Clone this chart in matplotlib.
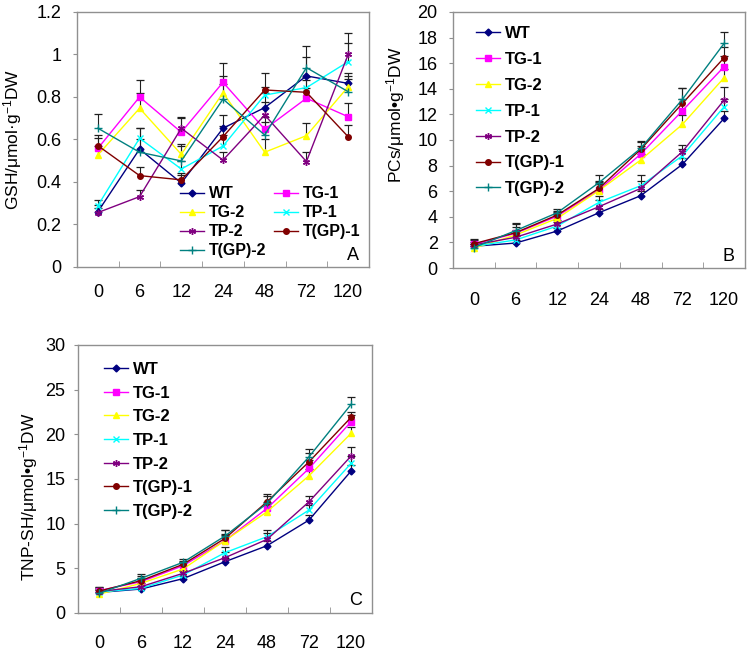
import numpy as np
import matplotlib
matplotlib.use('Agg')
import matplotlib.pyplot as plt
from matplotlib.ticker import FixedLocator, FuncFormatter

# 字体设置
plt.rcParams['font.family'] = ['Liberation Sans', 'DejaVu Sans']
plt.rcParams['mathtext.fontset'] = 'custom'
plt.rcParams['mathtext.rm'] = 'Liberation Sans'
plt.rcParams['mathtext.it'] = 'Liberation Sans'

# 数据
hours = ['0', '6', '12', '24', '48', '72', '120']
labels = ['WT', 'TG-1', 'TG-2', 'TP-1', 'TP-2', 'T(GP)-1', 'T(GP)-2']

# A: GSH
gsh_wt = [0.26, 0.555, 0.395, 0.653, 0.75, 0.899, 0.864]
gsh_tg1 = [0.558, 0.80, 0.634, 0.869, 0.648, 0.794, 0.707]
gsh_tg2 = [0.527, 0.747, 0.530, 0.82, 0.54, 0.618, 0.848]
gsh_tp1 = [0.289, 0.606, 0.461, 0.569, 0.809, 0.844, 0.966]
gsh_tp2 = [0.256, 0.331, 0.653, 0.503, 0.715, 0.496, 1.0]
gsh_gp1 = [0.571, 0.43, 0.41, 0.613, 0.833, 0.822, 0.613]
gsh_gp2 = [0.653, 0.54, 0.499, 0.79, 0.621, 0.938, 0.825]
gsh_err_wt = [0.03, 0.10, 0.04, 0.06, 0.07, 0.09, 0.05]
gsh_err_tg1 = [0.05, 0.08, 0.07, 0.09, 0.06, 0.05, 0.065]
gsh_err_tg2 = [0.04, 0.07, 0.05, 0.08, 0.06, 0.06, 0.05]
gsh_err_tp1 = [0.025, 0.05, 0.04, 0.05, 0.04, 0.05, 0.09]
gsh_err_tp2 = [0.02, 0.03, 0.05, 0.04, 0.06, 0.045, 0.10]
gsh_err_gp1 = [0.05, 0.04, 0.03, 0.05, 0.08, 0.06, 0.055]
gsh_err_gp2 = [0.065, 0.06, 0.07, 0.07, 0.06, 0.10, 0.06]

# B: PCs
pcs_wt = [1.7, 1.95, 2.89, 4.32, 5.65, 8.1, 11.69]
pcs_tg1 = [1.85, 2.71, 4.06, 6.1, 8.9, 12.29, 15.73]
pcs_tg2 = [1.55, 2.58, 3.88, 6.05, 8.44, 11.22, 14.87]
pcs_tp1 = [1.7, 2.19, 3.28, 5.13, 6.43, 8.77, 12.6]
pcs_tp2 = [1.8, 2.4, 3.44, 4.79, 6.22, 9.09, 13.12]
pcs_gp1 = [1.9, 2.76, 4.14, 6.22, 9.27, 12.86, 16.43]
pcs_gp2 = [1.6, 2.92, 4.32, 6.67, 9.35, 13.18, 17.55]
pcs_err_wt = [0.2, 0.2, 0.2, 0.3, 0.4, 0.5, 0.6]
pcs_err_tg1 = [0.3, 0.5, 0.3, 0.6, 0.6, 0.9, 0.8]
pcs_err_tg2 = [0.2, 0.4, 0.3, 0.5, 0.5, 0.7, 0.7]
pcs_err_tp1 = [0.2, 0.3, 0.3, 0.5, 0.8, 0.5, 0.6]
pcs_err_tp2 = [0.2, 0.3, 0.3, 0.5, 0.6, 0.5, 1.0]
pcs_err_gp1 = [0.4, 0.7, 0.3, 0.6, 0.6, 1.2, 0.8]
pcs_err_gp2 = [0.3, 0.6, 0.3, 0.6, 0.6, 0.9, 0.9]

# C: TNP-SH
tnp_wt = [2.3, 2.68, 3.84, 5.74, 7.53, 10.4, 15.88]
tnp_tg1 = [2.5, 3.5, 5.29, 8.09, 11.71, 16.18, 21.4]
tnp_tg2 = [2.1, 3.32, 4.92, 8.1, 11.33, 15.36, 20.1]
tnp_tp1 = [2.35, 2.75, 4.25, 6.75, 8.54, 11.52, 16.74]
tnp_tp2 = [2.4, 2.94, 4.44, 6.19, 8.24, 12.45, 17.56]
tnp_gp1 = [2.45, 3.62, 5.44, 8.35, 12.45, 16.92, 21.89]
tnp_gp2 = [2.2, 3.88, 5.67, 8.61, 12.27, 17.48, 23.34]
tnp_err_wt = [0.3, 0.3, 0.3, 0.4, 0.5, 0.6, 0.7]
tnp_err_tg1 = [0.4, 0.4, 0.4, 0.7, 0.7, 0.9, 0.8]
tnp_err_tg2 = [0.3, 0.4, 0.4, 0.6, 0.6, 0.8, 0.75]
tnp_err_tp1 = [0.4, 0.3, 0.4, 0.6, 0.8, 0.6, 0.8]
tnp_err_tp2 = [0.3, 0.4, 0.4, 0.6, 0.7, 0.6, 1.0]
tnp_err_gp1 = [0.5, 0.5, 0.4, 0.9, 0.9, 1.0, 0.65]
tnp_err_gp2 = [0.4, 0.5, 0.4, 0.7, 0.8, 0.9, 0.85]

# 样式
colors = ['#000080', '#FF00FF', '#FFFF00', '#00FFFF', '#800080', '#800000', '#008080']
markers = ['D', 's', '^', 'x', (6, 2, 0), 'o', '+']
msizes = [3.5, 4.5, 4.5, 4.5, 5, 4, 6]


def draw_panel(ax, data, errs, ylim, ystep, ylabel, letter, label_pos, xpad, ypad):
    x = np.arange(len(hours))
    handles = []
    for i in range(len(data)):
        y = np.array(data[i])
        e = np.array(errs[i])
        # 只画上方误差线
        ax.vlines(x, y, y + e, color='#202020', lw=0.8, zorder=2)
        ax.plot(x, y + e, ls='none', marker='_', ms=6, mew=0.9, color='#202020', zorder=2)
        h, = ax.plot(x, y, '-', color=colors[i], lw=1.0, marker=markers[i],
                     ms=msizes[i], mfc=colors[i], mec=colors[i], mew=1.0,
                     label=labels[i], zorder=3)
        handles.append(h)

    ax.set_xlim(-0.5, len(hours) - 0.5)
    ax.set_ylim(ylim)
    ax.set_yticks(np.arange(ylim[0], ylim[1] + ystep / 2, ystep))
    ax.yaxis.set_major_formatter(FuncFormatter(lambda v, p: '%g' % round(v, 2)))
    ax.set_xticks(x)
    ax.set_xticklabels(hours)
    ax.xaxis.set_minor_locator(FixedLocator(np.arange(0.5, len(hours) - 1, 1)))
    ax.tick_params(axis='x', which='major', length=0, labelsize=13, pad=xpad)
    ax.tick_params(axis='x', which='minor', length=4, direction='in', color='#909090')
    ax.tick_params(axis='y', length=3, direction='out', color='#909090', labelsize=13, pad=ypad)
    for s in ax.spines.values():
        s.set_color('#909090')
        s.set_linewidth(1.0)

    ax.set_ylabel(ylabel, fontsize=12.5)
    ax.yaxis.set_label_coords(label_pos[0], label_pos[1])
    ax.text(0.945, 0.045, letter, transform=ax.transAxes, fontsize=13, ha='center', va='center')
    return handles


fig = plt.figure(figsize=(7.52, 6.51), dpi=100)
ax_a = fig.add_axes([0.1024, 0.5899, 0.3883, 0.3917])
ax_b = fig.add_axes([0.6024, 0.5883, 0.3883, 0.3933])
ax_c = fig.add_axes([0.1037, 0.0584, 0.3910, 0.4117])

hs = draw_panel(ax_a,
                [gsh_wt, gsh_tg1, gsh_tg2, gsh_tp1, gsh_tp2, gsh_gp1, gsh_gp2],
                [gsh_err_wt, gsh_err_tg1, gsh_err_tg2, gsh_err_tp1, gsh_err_tp2, gsh_err_gp1, gsh_err_gp2],
                (0, 1.2), 0.2, r'GSH/μmol·g$^{-1}$DW', 'A', (-0.18, 0.5), 12, 8)
# A 图图例按行排列
order = [0, 2, 4, 6, 1, 3, 5]
ax_a.legend([hs[k] for k in order], [labels[k] for k in order], ncol=2, frameon=False,
            loc='upper left', bbox_to_anchor=(0.315, 0.36), prop={'weight': 'bold', 'size': 11.5},
            handlelength=1.5, handletextpad=0.3, labelspacing=0.25, columnspacing=0.5,
            borderpad=0.2)

draw_panel(ax_b,
           [pcs_wt, pcs_tg1, pcs_tg2, pcs_tp1, pcs_tp2, pcs_gp1, pcs_gp2],
           [pcs_err_wt, pcs_err_tg1, pcs_err_tg2, pcs_err_tp1, pcs_err_tp2, pcs_err_gp1, pcs_err_gp2],
           (0, 20), 2, r'PCs/μmol•g$^{-1}$DW', 'B', (-0.159, 0.6), 17, 8)
ax_b.legend(frameon=False, loc='upper left', bbox_to_anchor=(0.04, 0.99),
            prop={'weight': 'bold', 'size': 12}, handlelength=1.4, handletextpad=0.3,
            labelspacing=0.65, borderpad=0.2)

draw_panel(ax_c,
           [tnp_wt, tnp_tg1, tnp_tg2, tnp_tp1, tnp_tp2, tnp_gp1, tnp_gp2],
           [tnp_err_wt, tnp_err_tg1, tnp_err_tg2, tnp_err_tp1, tnp_err_tp2, tnp_err_gp1, tnp_err_gp2],
           (0, 30), 5, r'TNP-SH/μmol•g$^{-1}$DW', 'C', (-0.128, 0.434), 16, 6)
ax_c.legend(frameon=False, loc='upper left', bbox_to_anchor=(0.05, 0.98),
            prop={'weight': 'bold', 'size': 12}, handlelength=1.4, handletextpad=0.3,
            labelspacing=0.52, borderpad=0.2)

plt.savefig('out.png', dpi=100)
